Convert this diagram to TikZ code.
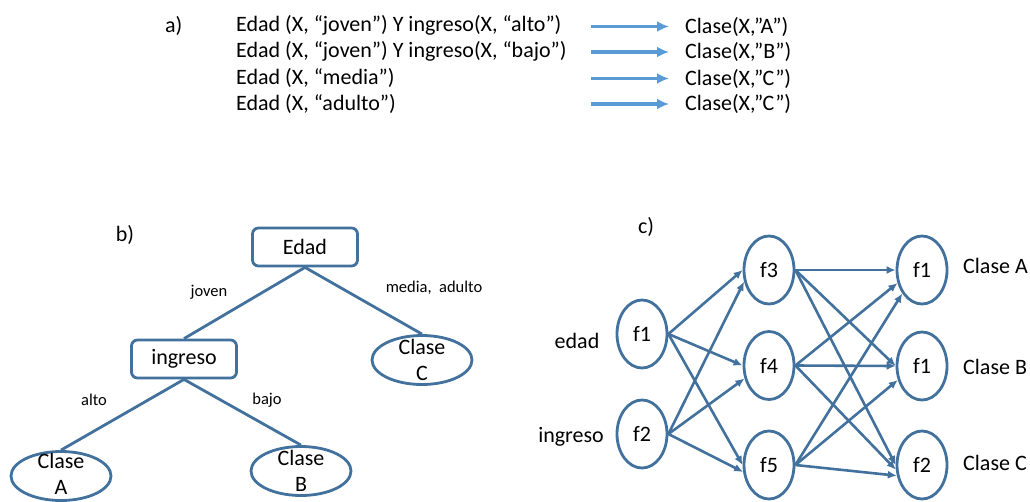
\documentclass[tikz,border=0pt]{standalone}
\usepackage{fontspec}
\setmainfont{Carlito}
\usetikzlibrary{shapes.geometric,arrows.meta}
\definecolor{lb}{RGB}{91,155,213}
\definecolor{db}{RGB}{65,113,156}
\begin{document}
\begin{tikzpicture}[x=1pt,y=-1pt,
  txt/.style={font=\fontsize{22}{26.5}\selectfont, inner sep=0pt},
  small/.style={font=\fontsize{16.5}{19}\selectfont, inner sep=0pt},
  box/.style={draw=db, line width=2.8pt, rounded corners=6pt, minimum width=105pt, minimum height=38pt, txt},
  leaf/.style={ellipse, draw=db, line width=2.8pt, minimum width=100pt, minimum height=49pt, inner sep=0pt},
  neur/.style={ellipse, draw=db, line width=2.8pt, minimum width=50pt, minimum height=68pt, inner sep=0pt, txt},
  edge/.style={db, line width=2.8pt},
  arr/.style={db, line width=2.6pt, -{Latex[length=9pt,width=8pt]}},
  rulearr/.style={lb, line width=3.3pt, -{Latex[length=12pt,width=11pt]}, shorten >=16pt}
]
\useasboundingbox (0,0) rectangle (1030,501);

% ---------- a)
\node[txt, anchor=west] (la) at (165,25.5) {a)};
\node[txt, anchor=west] (r1) at (236,25.5) {Edad (X, “joven”) Y ingreso(X, “alto”)};
\node[txt, anchor=west] (r2) at (236,51.5) {Edad (X, “joven”) Y ingreso(X, “bajo”)};
\node[txt, anchor=west] (r3) at (236,77.5) {Edad (X, “media”)};
\node[txt, anchor=west] (r4) at (236,103.5) {Edad (X, “adulto”)};
\node[txt, anchor=west] (c1) at (685,26.5) {Clase(X,”A”)};
\node[txt, anchor=west] (c2) at (685,52) {Clase(X,”B”)};
\node[txt, anchor=west] (c3) at (685,78.5) {Clase(X,”C”)};
\node[txt, anchor=west] (c4) at (685,104) {Clase(X,”C”)};
\coordinate (s1) at (591,26.5);
\coordinate (s2) at (591,52);
\coordinate (s3) at (591,78.5);
\coordinate (s4) at (591,104);
\draw[rulearr] (s1) -- (c1.west);
\draw[rulearr] (s2) -- (c2.west);
\draw[rulearr] (s3) -- (c3.west);
\draw[rulearr] (s4) -- (c4.west);

% ---------- b)
\node[txt] (lb) at (125,235) {b)};
\node[box] (edad) at (305,247) {Edad};
\node[box] (ing) at (184,359) {ingreso};
\node[leaf, label={[txt,align=center]center:Clase\\C}] (cc) at (422,360) {};
\node[leaf, label={[txt,align=center,yshift=2pt]center:Clase\\A}] (ca) at (61,476) {};
\node[leaf, label={[txt,align=center]center:Clase\\B}] (cb) at (301,471) {};
\draw[edge] (edad.south) -- (ing.north);
\draw[edge] (edad.south) -- (cc.north);
\draw[edge] (ing.south) -- (ca.north);
\draw[edge] (ing.south) -- (cb.north);
\node[small] (ljoven) at (209,292) {joven};
\node[small] (lmedia) at (434,288) {media,\ \ adulto};
\node[small] (lalto) at (94,400) {alto};
\node[small] (lbajo) at (267,400) {bajo};

% ---------- c)
\node[txt] (lc) at (646,227) {c)};
\node[neur] (i1) at (642,334) {f1};
\node[neur] (i2) at (642,434) {f2};
\node[neur] (h3) at (769,270) {f3};
\node[neur] (h4) at (769,365.5) {f4};
\node[neur] (h5) at (769,465) {f5};
\node[neur] (o1) at (922,270) {f1};
\node[neur] (o2) at (922,366) {f1};
\node[neur] (o3) at (922,465) {f2};
\node[txt] (tedad) at (577,341) {edad};
\node[txt] (ting) at (571,437) {ingreso};
\node[txt, anchor=west] (ta) at (963,266) {Clase A};
\node[txt, anchor=west] (tb) at (963,367) {Clase B};
\node[txt, anchor=west] (tc) at (963,463) {Clase C};

\draw[arr] (i1.east) -- (h3.west);
\draw[arr] (i1.east) -- (h4.west);
\draw[arr] (i1.east) -- (h5.west);
\draw[arr] (i2.east) -- (h3.205);
\draw[arr] (i2.east) -- (h4.208);
\draw[arr] (i2.east) -- (h5.195);

\draw[arr] (h3.east) -- (o1.west);
\draw[arr] (h3.east) -- (o2.west);
\draw[arr] (h3.east) -- (o3.west);
\draw[arr] (h4.east) -- (o1.208);
\draw[arr] (h4.east) -- (o2.west);
\draw[arr] (h4.east) -- (o3.190);
\draw[arr] (h5.east) -- (o1.230);
\draw[arr] (h5.east) -- (o2.210);
\draw[arr] (h5.east) -- (o3.203);
\end{tikzpicture}
\end{document}
